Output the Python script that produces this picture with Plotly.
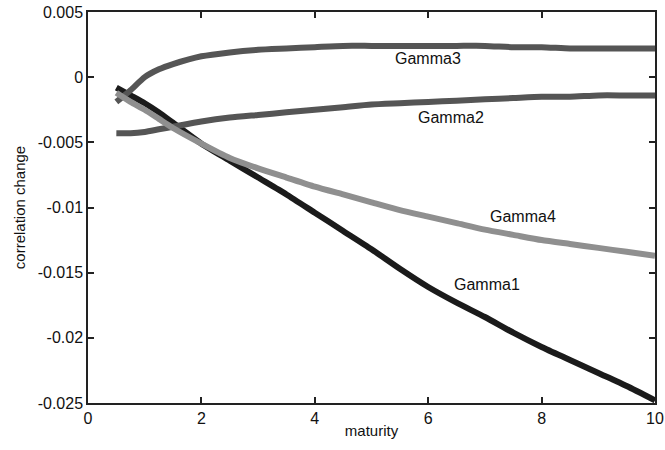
import plotly.graph_objects as go

# ---- data ----
maturity = [0.5, 0.75, 1, 1.25, 1.5, 2, 2.5, 3, 3.5, 4, 4.5, 5, 5.5, 6,
            6.5, 7, 7.5, 8, 8.5, 9, 9.5, 10]

gamma1 = [-0.0008, -0.0014, -0.0020, -0.0027, -0.0035, -0.0051, -0.0064,
          -0.0077, -0.0090, -0.0104, -0.0118, -0.0132, -0.0147, -0.0161,
          -0.0173, -0.0184, -0.0196, -0.0207, -0.0217, -0.0227, -0.0237,
          -0.0248]
gamma2 = [-0.0043, -0.0043, -0.0042, -0.0040, -0.0038, -0.0034, -0.0031,
          -0.0029, -0.0027, -0.0025, -0.0023, -0.0021, -0.0020, -0.0019,
          -0.0018, -0.0017, -0.0016, -0.0015, -0.0015, -0.0014, -0.0014,
          -0.0014]
gamma3 = [-0.0019, -0.0010, 0.0000, 0.0006, 0.0010, 0.0016, 0.0019,
          0.0021, 0.0022, 0.0023, 0.0024, 0.0024, 0.0024, 0.0024,
          0.0024, 0.0024, 0.0023, 0.0023, 0.0022, 0.0022, 0.0022, 0.0022]
gamma4 = [-0.0012, -0.0019, -0.0025, -0.0032, -0.0039, -0.0051, -0.0062,
          -0.0070, -0.0077, -0.0084, -0.0090, -0.0096, -0.0102, -0.0107,
          -0.0112, -0.0117, -0.0121, -0.0125, -0.0128, -0.0131, -0.0134,
          -0.0137]

series_names = ["Gamma1", "Gamma2", "Gamma3", "Gamma4"]
label_x = [7.03, 6.4, 6.0, 7.67]
label_y = [-0.0159, -0.0031, 0.0014, -0.0107]

x_tick_vals = [0, 2, 4, 6, 8, 10]
x_tick_text = ["0", "2", "4", "6", "8", "10"]
y_tick_vals = [0.005, 0, -0.005, -0.01, -0.015, -0.02, -0.025]
y_tick_text = ["0.005", "0", "-0.005", "-0.01", "-0.015", "-0.02", "-0.025"]

# ---- figure ----
colors = {"Gamma1": "#1b1b1b", "Gamma2": "#555555", "Gamma3": "#555555",
          "Gamma4": "#8f8f8f"}
values = {"Gamma1": gamma1, "Gamma2": gamma2, "Gamma3": gamma3,
          "Gamma4": gamma4}

fig = go.Figure()
for name in ["Gamma1", "Gamma2", "Gamma3", "Gamma4"]:
    fig.add_trace(go.Scatter(x=maturity, y=values[name], mode="lines",
                             name=name, line=dict(color=colors[name],
                                                  width=6, shape="spline",
                                                  smoothing=0.6)))

for name, lx, ly in zip(series_names, label_x, label_y):
    fig.add_annotation(x=lx, y=ly, text=name, showarrow=False,
                       font=dict(size=16, color="#111111"))

font = "Liberation Sans, Arial, Helvetica, sans-serif"
axis_common = dict(showline=True, linecolor="#222222", linewidth=1.5,
                   mirror="ticks", ticks="inside", ticklen=6, tickwidth=1.5,
                   tickcolor="#222222", showgrid=False, zeroline=False,
                   automargin=False, ticklabeloverflow="allow",
                   tickfont=dict(size=16, color="#111111"))

fig.update_layout(
    template="none",
    width=665, height=450,
    margin=dict(l=88, r=10, t=12, b=47),
    paper_bgcolor="white", plot_bgcolor="white",
    showlegend=False,
    font=dict(family=font, size=15, color="#111111"),
    xaxis=dict(range=[0, 10], tickvals=x_tick_vals, ticktext=x_tick_text,
               title=dict(text="maturity", standoff=0,
                          font=dict(size=15)),
               **axis_common),
    yaxis=dict(range=[-0.025, 0.005], tickvals=y_tick_vals,
               ticktext=y_tick_text,
               title=dict(text="correlation change", standoff=8,
                          font=dict(size=15)),
               **axis_common),
)

fig.write_html("out.html")
